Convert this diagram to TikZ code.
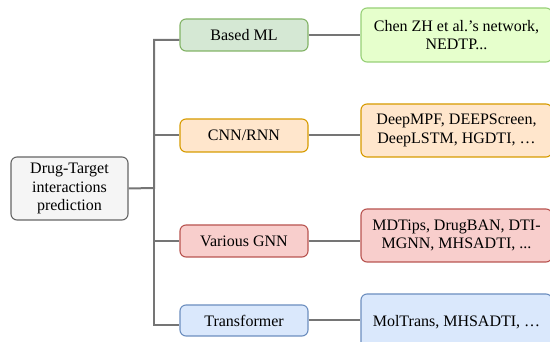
\documentclass[tikz,border=0pt]{standalone}
\usepackage{fontspec}
\setmainfont{Liberation Serif}
\definecolor{rootfill}{HTML}{F5F5F5}
\definecolor{rootline}{HTML}{666666}
\definecolor{greenfill}{HTML}{D5E8D4}
\definecolor{greenline}{HTML}{82B366}
\definecolor{limefill}{HTML}{E6FFCC}
\definecolor{limeline}{HTML}{97D077}
\definecolor{orangefill}{HTML}{FFE6CC}
\definecolor{orangeline}{HTML}{D79B00}
\definecolor{redfill}{HTML}{F8CECC}
\definecolor{redline}{HTML}{B85450}
\definecolor{bluefill}{HTML}{DAE8FC}
\definecolor{blueline}{HTML}{6C8EBF}
\definecolor{wire}{HTML}{757575}
\begin{document}
\begin{tikzpicture}[x=1pt,y=1pt,
  box/.style={rounded corners=6pt, line width=1.1pt, align=center, inner sep=0pt,
    font=\fontsize{16}{18.5}\selectfont},
  catbox/.style={box, minimum width=128pt},
  listbox/.style={box, minimum width=191pt},
  link/.style={draw=wire, line width=2pt}]
\useasboundingbox (0,0) rectangle (550,342);
\begin{scope}
\clip (0,0) rectangle (550,342);
% root of the tree
\node[box, fill=rootfill, draw=rootline, minimum width=117pt, minimum height=63pt]
  (root) at (69.5,153.5) {Drug-Target\\interactions\\prediction};
% method families
\node[catbox, fill=greenfill, draw=greenline, minimum height=32pt] (ml) at (244,307) {Based ML};
\node[catbox, fill=orangefill, draw=orangeline, minimum height=33pt] (cnn) at (244,206.5) {CNN/RNN};
\node[catbox, fill=redfill, draw=redline, minimum height=32pt] (gnn) at (244,101) {Various GNN};
\node[catbox, fill=bluefill, draw=blueline, minimum height=31pt] (trf) at (244,21.5) {Transformer};
% example models
\node[listbox, fill=limefill, draw=limeline, minimum height=54pt] (mlx) at (456.5,307)
  {Chen ZH et al.’s network,\\NEDTP...};
\node[listbox, fill=orangefill, draw=orangeline, minimum height=53pt] (cnnx) at (456.5,211.5)
  {DeepMPF, DEEPScreen,\\DeepLSTM, HGDTI, …};
\node[listbox, fill=redfill, draw=redline, minimum height=53pt] (gnnx) at (456.5,106.5)
  {MDTips, DrugBAN, DTI-\\MGNN, MHSADTI, ...};
\node[listbox, fill=bluefill, draw=blueline, minimum height=56pt] (trfx) at (456.5,20)
  {MolTrans, MHSADTI, …};
% tree connectors
\coordinate (j) at (154,154);
\draw[link] (root.east) -- (j) |- ([yshift=-5pt]ml.west);
\draw[link] (j) |- (cnn.west);
\draw[link] (j) |- (gnn.west);
\draw[link] (j) |- ([yshift=-4.5pt]trf.west);
\draw[link] (ml.east) -- (ml.east -| mlx.west);
\draw[link] (cnn.east) -- (cnn.east -| cnnx.west);
\draw[link] (gnn.east) -- (gnn.east -| gnnx.west);
\draw[link] (trf.east) -- (trf.east -| trfx.west);
\end{scope}
\end{tikzpicture}
\end{document}
